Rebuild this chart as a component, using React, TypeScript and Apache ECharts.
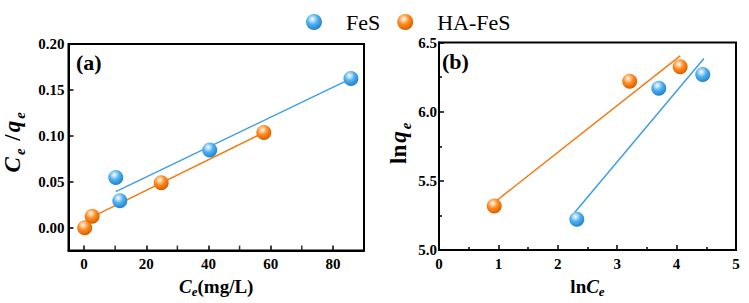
import React, { useEffect, useRef } from "react";
import * as echarts from "echarts";

// (a) Ce/qe vs Ce
const feS_a_x = [10.2, 11.5, 40.4, 85.8];
const feS_a_y = [0.0546, 0.0293, 0.0846, 0.1625];
const ha_a_x = [0.2, 2.6, 24.8, 57.8];
const ha_a_y = [0.0, 0.0125, 0.049, 0.1036];
const feS_a_fit_x = [10.2, 85.3];
const feS_a_fit_y = [0.0393, 0.1614];
const ha_a_fit_x = [1.5, 57.8];
const ha_a_fit_y = [0.0099, 0.1036];

// (b) lnqe vs lnCe
const feS_b_x = [2.32, 3.7, 4.44];
const feS_b_y = [5.222, 6.17, 6.268];
const ha_b_x = [0.93, 3.21, 4.06];
const ha_b_y = [5.318, 6.22, 6.324];
const feS_b_fit_x = [2.28, 4.46];
const feS_b_fit_y = [5.27, 6.384];
const ha_b_fit_x = [0.94, 4.06];
const ha_b_fit_y = [5.347, 6.403];

const aXLabels = [0, 20, 40, 60, 80];
const aXMinor = [10, 30, 50, 70];
const aYLabels = [0, 0.05, 0.1, 0.15, 0.2];
const aYMin = -0.025;

const seriesNames = ["FeS", "HA-FeS"];

const FONT = "Times New Roman";
const BLUE_LINE = "#3d9fe3";
const ORANGE_LINE = "#f47a12";

const zip = (xs: number[], ys: number[]) => xs.map((x, i) => [x, ys[i]]);

const blueBall = () =>
  new echarts.graphic.RadialGradient(0.4, 0.32, 0.68, [
    { offset: 0, color: "#ffffff" },
    { offset: 0.18, color: "#bfe2fa" },
    { offset: 0.5, color: "#4eaff0" },
    { offset: 1, color: "#2382cc" },
  ]);
const orangeBall = () =>
  new echarts.graphic.RadialGradient(0.4, 0.32, 0.68, [
    { offset: 0, color: "#ffffff" },
    { offset: 0.18, color: "#ffd2a6" },
    { offset: 0.5, color: "#ff8a1e" },
    { offset: 1, color: "#d65f00" },
  ]);

const makeRich = (big: number, small: number, lh: number, pad: number) => ({
  i: { fontFamily: FONT, fontWeight: "bold", fontStyle: "italic", fontSize: big, lineHeight: lh, color: "#000", padding: [0, pad, 0, 0] },
  s: { fontFamily: FONT, fontWeight: "bold", fontStyle: "italic", fontSize: small, lineHeight: small, verticalAlign: "bottom", color: "#000", padding: [0, pad, 0, 0] },
  n: { fontFamily: FONT, fontWeight: "bold", fontSize: big, lineHeight: lh, color: "#000", padding: [0, pad, 0, 0] },
});
const richX = makeRich(19, 13, 24, 0);
const richY = makeRich(23, 15, 30, 2);

const axisLabelStyle = { fontFamily: FONT, fontWeight: "bold", fontSize: 15, color: "#000" };

export default function App() {
  const ref = useRef<HTMLDivElement>(null);
  useEffect(() => {
    if (!ref.current) return;
    const chart = echarts.init(ref.current, undefined, { renderer: "svg" });
    const axisLine = { show: true, onZero: false, lineStyle: { color: "#000", width: 2 } };
    chart.setOption({
      animation: false,
      backgroundColor: "#fff",
      textStyle: { fontFamily: FONT },
      legend: {
        data: seriesNames,
        top: 6,
        left: 301,
        icon: "circle",
        itemWidth: 16,
        itemHeight: 16,
        itemGap: 17,
        textStyle: { fontFamily: FONT, fontSize: 22, color: "#000", padding: [0, 0, 0, 19] },
      },
      grid: [
        { left: 65.5, top: 44, width: 298.5, height: 209, show: true, borderColor: "#000", borderWidth: 2, containLabel: false },
        { left: 439, top: 42.5, width: 297, height: 208.5, show: true, borderColor: "#000", borderWidth: 2, containLabel: false },
      ],
      xAxis: [
        {
          gridIndex: 0, type: "value", min: -5, max: 90, position: "bottom",
          axisLine,
          axisTick: { show: true, inside: true, length: 5, customValues: aXLabels, lineStyle: { color: "#000", width: 1.5 } },
          axisLabel: { ...axisLabelStyle, customValues: aXLabels, margin: 6 },
          splitLine: { show: false },
          name: "{i|C}{s|e}{n|(mg/L)}",
          nameLocation: "middle",
          nameGap: 22,
          nameTextStyle: { rich: richX },
        },
        {
          gridIndex: 1, type: "value", min: 0, max: 5, interval: 1,
          axisLine,
          axisTick: { show: true, inside: true, length: 5, lineStyle: { color: "#000", width: 1.5 } },
          minorTick: { show: true, splitNumber: 2, length: 3, lineStyle: { color: "#000", width: 1.5 } },
          axisLabel: { ...axisLabelStyle, margin: 6 },
          splitLine: { show: false },
          name: "{n|ln}{i|C}{s|e}",
          nameLocation: "middle",
          nameGap: 24,
          nameTextStyle: { rich: richX },
        },
      ],
      yAxis: [
        {
          gridIndex: 0, type: "value", min: aYMin, max: 0.2,
          axisLine,
          axisTick: { show: true, inside: true, length: 5, customValues: aYLabels, lineStyle: { color: "#000", width: 1.5 } },
          axisLabel: { ...axisLabelStyle, customValues: aYLabels, margin: 4, formatter: (v: number) => v.toFixed(2) },
          splitLine: { show: false },
          name: "{i|C}{s|e}{n| /}{i|q}{s|e}",
          nameLocation: "middle",
          nameRotate: 90,
          nameGap: 41,
          nameTextStyle: { rich: richY, padding: [0, 0, 0, 12] },
        },
        {
          gridIndex: 1, type: "value", min: 5, max: 6.5, interval: 0.5,
          axisLine,
          axisTick: { show: true, inside: true, length: 5, lineStyle: { color: "#000", width: 1.5 } },
          minorTick: { show: true, splitNumber: 2, length: 3, lineStyle: { color: "#000", width: 1.5 } },
          axisLabel: { ...axisLabelStyle, margin: 2, formatter: (v: number) => v.toFixed(1) },
          splitLine: { show: false },
          name: "{n|ln}{i|q}{s|e}",
          nameLocation: "middle",
          nameRotate: 90,
          nameGap: 26,
          nameTextStyle: { rich: richY, padding: [0, 0, 0, 8] },
        },
      ],
      graphic: [
        { type: "text", left: 76, top: 51, style: { text: "(a)", fontFamily: FONT, fontWeight: "bold", fontSize: 22, fill: "#000" } },
        { type: "text", left: 442, top: 50, style: { text: "(b)", fontFamily: FONT, fontWeight: "bold", fontSize: 22, fill: "#000" } },
      ],
      series: [
        {
          name: "minor ticks a", type: "scatter", xAxisIndex: 0, yAxisIndex: 0,
          data: aXMinor.map((v) => [v, aYMin]), symbol: "rect", symbolSize: [1.5, 6], symbolOffset: [0, -2],
          itemStyle: { color: "#000" }, silent: true, clip: false, z: 3,
        },
        { name: "FeS fit a", type: "line", xAxisIndex: 0, yAxisIndex: 0, data: zip(feS_a_fit_x, feS_a_fit_y), showSymbol: false, lineStyle: { color: BLUE_LINE, width: 1.5 }, z: 2 },
        { name: "HA fit a", type: "line", xAxisIndex: 0, yAxisIndex: 0, data: zip(ha_a_fit_x, ha_a_fit_y), showSymbol: false, lineStyle: { color: ORANGE_LINE, width: 1.5 }, z: 2 },
        { name: "FeS fit b", type: "line", xAxisIndex: 1, yAxisIndex: 1, data: zip(feS_b_fit_x, feS_b_fit_y), showSymbol: false, lineStyle: { color: BLUE_LINE, width: 1.5 }, z: 2 },
        { name: "HA fit b", type: "line", xAxisIndex: 1, yAxisIndex: 1, data: zip(ha_b_fit_x, ha_b_fit_y), showSymbol: false, lineStyle: { color: ORANGE_LINE, width: 1.5 }, z: 2 },
        { name: "FeS", type: "scatter", xAxisIndex: 0, yAxisIndex: 0, data: zip(feS_a_x, feS_a_y), symbolSize: 15, itemStyle: { color: blueBall(), opacity: 1 }, z: 5 },
        { name: "HA-FeS", type: "scatter", xAxisIndex: 0, yAxisIndex: 0, data: zip(ha_a_x, ha_a_y), symbolSize: 15, itemStyle: { color: orangeBall(), opacity: 1 }, z: 5 },
        { name: "FeS", type: "scatter", xAxisIndex: 1, yAxisIndex: 1, data: zip(feS_b_x, feS_b_y), symbolSize: 15, itemStyle: { color: blueBall(), opacity: 1 }, z: 5 },
        { name: "HA-FeS", type: "scatter", xAxisIndex: 1, yAxisIndex: 1, data: zip(ha_b_x, ha_b_y), symbolSize: 15, itemStyle: { color: orangeBall(), opacity: 1 }, z: 5 },
      ],
    });
    return () => chart.dispose();
  }, []);
  return <div ref={ref} style={{ width: 749, height: 303, position: "absolute", left: 0, top: 0 }} />;
}
